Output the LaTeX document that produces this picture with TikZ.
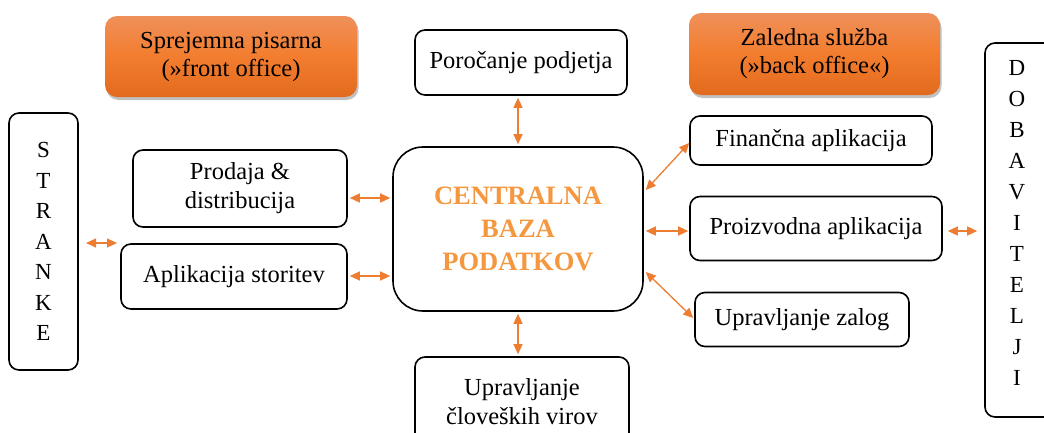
\documentclass[tikz,border=0pt]{standalone}
\usepackage{fontspec}
\setmainfont{Liberation Serif}
\usetikzlibrary{arrows.meta,shadows}
\definecolor{arrowor}{RGB}{237,125,49}
\definecolor{centralor}{RGB}{244,151,62}
\definecolor{gtop}{RGB}{239,144,90}
\definecolor{gmid}{RGB}{243,125,46}
\definecolor{gbot}{RGB}{226,106,30}
\tikzset{
  box/.style={draw=black, line width=1.6pt, rounded corners=10pt, fill=white, align=center,
    inner sep=0pt, font=\fontsize{24.5}{29}\selectfont},
  obox/.style={rounded corners=12pt, align=center, inner sep=0pt,
    top color=gtop, bottom color=gbot, middle color=gmid,
    font=\fontsize{24.5}{28}\selectfont,
    drop shadow={shadow xshift=1.5pt, shadow yshift=-3pt, opacity=0.35, fill=black!70}},
  vbox/.style={draw=black, line width=1.6pt, rounded corners=10pt, fill=white, align=center,
    inner sep=0pt, font=\fontsize{23}{30.5}\selectfont},
  arr/.style={draw=arrowor, line width=1.3pt, {Triangle[length=10pt,width=9pt]}-{Triangle[length=10pt,width=9pt]}},
}
\begin{document}
\begin{tikzpicture}[x=1pt,y=-1pt]
\useasboundingbox (0,0) rectangle (1044,432);
\clip (0,0) rectangle (1044,432);
% orange header boxes
\node[obox, minimum width=252pt, minimum height=81pt] (front) at (231,56.5) {Sprejemna pisarna\\(»front office)};
\node[obox, minimum width=251pt, minimum height=82pt] (back) at (814.5,54) {Zaledna služba\\(»back office«)};
% boxes
\node[box, minimum width=212pt, minimum height=65pt] (por) at (521,62.5) {Poročanje podjetja};
\node[vbox, minimum width=69pt, minimum height=257pt] (str) at (43.5,241.5) {S\\T\\R\\A\\N\\K\\E};
\node[box, minimum width=214pt, minimum height=77pt] (pro) at (240,188.5) {Prodaja \&\\distribucija};
\node[box, minimum width=226pt, minimum height=65pt] (apl) at (234,276.5) {Aplikacija storitev};
\node[box, rounded corners=30pt, minimum width=250pt, minimum height=164pt,
  font=\fontsize{26.5}{33}\selectfont\bfseries, text=centralor] (cen) at (518,229) {CENTRALNA\\BAZA\\PODATKOV};
\node[box, minimum width=242pt, minimum height=49pt] (fin) at (811,140.5) {Finančna aplikacija};
\node[box, minimum width=252pt, minimum height=64pt] (prz) at (816,228.5) {Proizvodna aplikacija};
\node[box, minimum width=214pt, minimum height=54pt] (zal) at (802,319.5) {Upravljanje zalog};
\node[box, minimum width=214pt, minimum height=88pt, text depth=0pt] (clo) at (522,401) {Upravljanje\\človeških virov};
\node[vbox, minimum width=75pt, minimum height=374pt] (dob) at (1022.5,230) {};
\node[font=\fontsize{23}{31}\selectfont, align=center, inner sep=0pt] (dobt) at (1017,223) {D\\O\\B\\A\\V\\I\\T\\E\\L\\J\\I};
% connectors
\coordinate (sa) at (86,243);
\coordinate (sb) at (117,243);
\draw[arr] (sa) -- (sb);
\draw[arr] ([xshift=2pt]pro.east |- 0,198) -- ([xshift=-2pt]cen.west |- 0,198);
\draw[arr] ([xshift=2pt]apl.east |- 0,276) -- ([xshift=-2pt]cen.west |- 0,276);
\draw[arr] ([yshift=-2pt]cen.north |- por.south) -- ([yshift=2pt]cen.north);
\draw[arr] ([yshift=-2pt]cen.south) -- ([yshift=2pt]cen.south |- clo.north);
\draw[arr] ([xshift=2pt]cen.east |- 0,190) -- (fin.west |- 0,143);
\draw[arr] ([xshift=2pt]cen.east |- 0,231) -- ([xshift=-1pt]prz.west |- 0,231);
\draw[arr] ([xshift=2pt]cen.east |- 0,272) -- ([xshift=-1pt]zal.west |- 0,318);
\draw[arr] ([xshift=5pt]prz.east |- 0,231) -- ([xshift=-7pt]dob.west |- 0,231);
\end{tikzpicture}
\end{document}
